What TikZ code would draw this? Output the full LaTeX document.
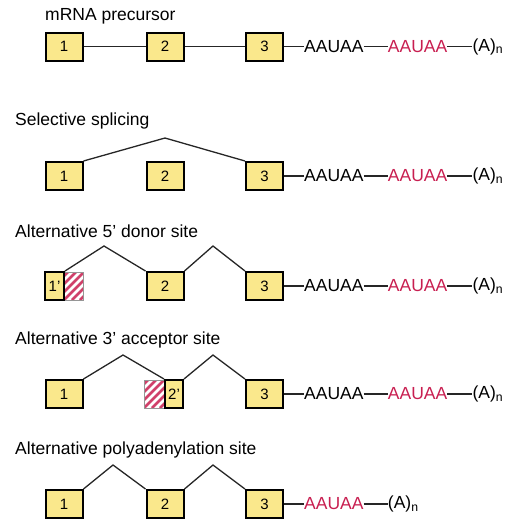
\documentclass[tikz,border=0pt]{standalone}
\usepackage{fontspec}
\setmainfont{Liberation Sans}
\usetikzlibrary{positioning}

\definecolor{exonfill}{RGB}{250,232,140}
\definecolor{polyared}{RGB}{200,30,80}
\definecolor{hatchgray}{RGB}{150,150,150}

\begin{document}
\begin{tikzpicture}[x=1pt, y=-1pt,
  exon/.style={draw=black, line width=2pt, fill=exonfill, minimum width=37pt,
    minimum height=28pt, inner sep=0pt, font=\fontsize{15}{15}\selectfont},
  halfexon/.style={exon, minimum width=19pt},
  intron/.style={line width=1.3pt, draw=black!85},
  title/.style={anchor=west, inner sep=0pt, font=\fontsize{17.5}{18}\selectfont},
  seq/.style={inner sep=0pt, font=\fontsize{17.5}{18}\selectfont},
  stripe/.style={polyared!85, line width=2.6pt}]

  \useasboundingbox (0,0) rectangle (520,520);

  % mRNA precursor
  \node[title] (t1) at (45,16) {mRNA precursor};
  \node[exon] (r1e1) at (64,46.5) {1};
  \node[exon] (r1e2) at (165,46.5) {2};
  \node[exon] (r1e3) at (264.5,46.5) {3};
  \node[seq, right=20pt of r1e3] (r1s1) {AAUAA};
  \node[seq, polyared, right=24pt of r1s1] (r1s2) {AAUAA};
  \node[seq, right=25pt of r1s2] (r1pa) {(A)\textsubscript{n}};
  \draw[intron] (r1e1) -- (r1e2);
  \draw[intron] (r1e2) -- (r1e3);
  \draw[intron] (r1e3) -- (r1s1);
  \draw[intron] (r1s1) -- (r1s2);
  \draw[intron] (r1s2.east) -- (r1s2.east -| r1pa.west);

  % selective splicing
  \node[title] (t2) at (15,121) {Selective splicing};
  \node[exon] (r2e1) at (64,176) {1};
  \node[exon] (r2e2) at (165,176) {2};
  \node[exon] (r2e3) at (264.5,176) {3};
  \coordinate (r2p1) at (165,138);
  \draw[intron] (r2e1.north east) -- (r2p1) -- (r2e3.north west);
  \node[seq, right=20pt of r2e3] (r2s1) {AAUAA};
  \node[seq, polyared, right=24pt of r2s1] (r2s2) {AAUAA};
  \node[seq, right=25pt of r2s2] (r2pa) {(A)\textsubscript{n}};
  \draw[intron] (r2e3) -- (r2s1);
  \draw[intron] (r2s1) -- (r2s2);
  \draw[intron] (r2s2.east) -- (r2s2.east -| r2pa.west);

  % alternative 5' donor site
  \node[title] (t3) at (15,231) {Alternative 5' donor site};
  \begin{scope}
    \clip (64,272) rectangle (83,300);
    \foreach \s in {-32,-24,...,24}
      \draw[stripe] (64+\s,300) -- ++(30,-30);
  \end{scope}
  \draw[hatchgray, line width=0.8pt] (64,272) rectangle (83,300);
  \node[halfexon] (r3e1) at (54.5,286) {1'};
  \node[exon] (r3e2) at (165,286) {2};
  \node[exon] (r3e3) at (264.5,286) {3};
  \coordinate (r3p1) at (104,246);
  \coordinate (r3p2) at (213,246);
  \draw[intron] (r3e1.north east) -- (r3p1) -- (r3e2.north west);
  \draw[intron] (r3e2.north east) -- (r3p2) -- (r3e3.north west);
  \node[seq, right=20pt of r3e3] (r3s1) {AAUAA};
  \node[seq, polyared, right=24pt of r3s1] (r3s2) {AAUAA};
  \node[seq, right=25pt of r3s2] (r3pa) {(A)\textsubscript{n}};
  \draw[intron] (r3e3) -- (r3s1);
  \draw[intron] (r3s1) -- (r3s2);
  \draw[intron] (r3s2.east) -- (r3s2.east -| r3pa.west);

  % alternative 3' acceptor site
  \node[title] (t4) at (15,340) {Alternative 3' acceptor site};
  \node[exon] (r4e1) at (64,394) {1};
  \begin{scope}
    \clip (144,380) rectangle (165,408);
    \foreach \s in {-32,-24,...,24}
      \draw[stripe] (144+\s,408) -- ++(30,-30);
  \end{scope}
  \draw[hatchgray, line width=0.8pt] (144,380) rectangle (165,408);
  \node[halfexon, minimum width=18pt] (r4e2) at (174,394) {2'};
  \node[exon] (r4e3) at (264.5,394) {3};
  \coordinate (r4p1) at (123,355);
  \coordinate (r4p2) at (213,355);
  \draw[intron] (r4e1.north east) -- (r4p1) -- (r4e2.north west);
  \draw[intron] (r4e2.north east) -- (r4p2) -- (r4e3.north west);
  \node[seq, right=20pt of r4e3] (r4s1) {AAUAA};
  \node[seq, polyared, right=24pt of r4s1] (r4s2) {AAUAA};
  \node[seq, right=25pt of r4s2] (r4pa) {(A)\textsubscript{n}};
  \draw[intron] (r4e3) -- (r4s1);
  \draw[intron] (r4s1) -- (r4s2);
  \draw[intron] (r4s2.east) -- (r4s2.east -| r4pa.west);

  % alternative polyadenylation site
  \node[title] (t5) at (15,450) {Alternative polyadenylation site};
  \node[exon] (r5e1) at (64,504) {1};
  \node[exon] (r5e2) at (165,504) {2};
  \node[exon] (r5e3) at (264.5,504) {3};
  \coordinate (r5p1) at (113,465);
  \coordinate (r5p2) at (213,465);
  \draw[intron] (r5e1.north east) -- (r5p1) -- (r5e2.north west);
  \draw[intron] (r5e2.north east) -- (r5p2) -- (r5e3.north west);
  \node[seq, polyared, right=20pt of r5e3] (r5s1) {AAUAA};
  \node[seq, right=24pt of r5s1] (r5pa) {(A)\textsubscript{n}};
  \draw[intron] (r5e3) -- (r5s1);
  \draw[intron] (r5s1.east) -- (r5s1.east -| r5pa.west);

\end{tikzpicture}
\end{document}
